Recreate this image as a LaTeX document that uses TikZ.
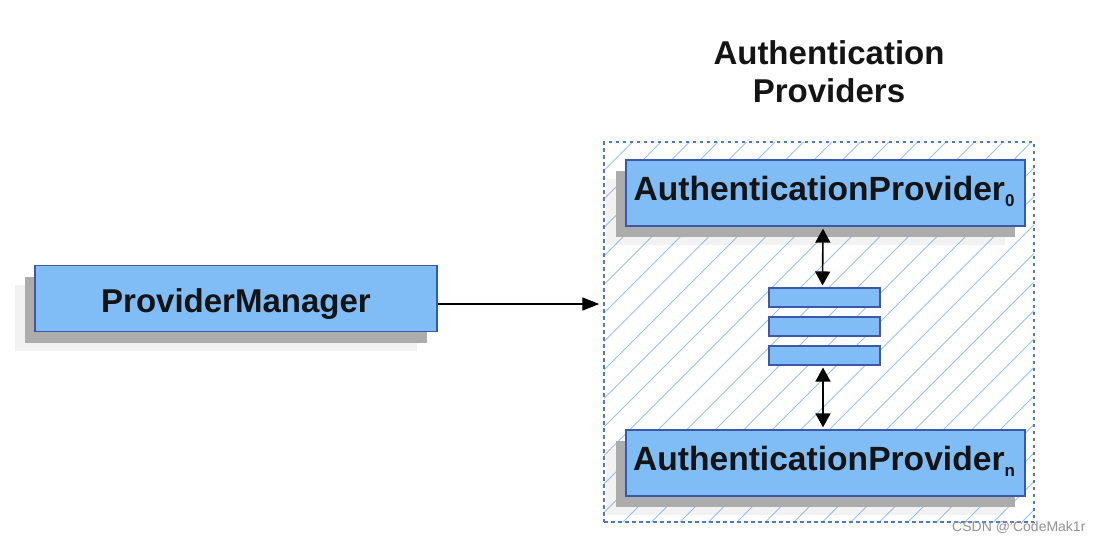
\documentclass[tikz,border=0pt]{standalone}
\usepackage{fontspec}
\setmainfont{Liberation Sans}
\usetikzlibrary{arrows.meta,shadows}
\definecolor{boxfill}{RGB}{128,188,246}
\definecolor{boxline}{RGB}{62,88,168}
\definecolor{hatchc}{RGB}{150,196,240}
\definecolor{grpline}{RGB}{80,120,200}
\definecolor{txt}{RGB}{20,20,20}
\newcommand{\subidx}[1]{\raisebox{-6pt}{\fontsize{17}{17}\selectfont\bfseries #1}}
\tikzset{
  bigbox/.style={draw=boxline, line width=1.3pt, fill=boxfill, minimum height=66pt,
    inner sep=0pt, text=txt, font=\fontsize{33.6}{38}\selectfont\bfseries,
    general shadow={shadow xshift=-20pt, shadow yshift=-19pt, fill=gray, fill opacity=0.1},
    general shadow={shadow xshift=-10pt, shadow yshift=-11pt, fill=gray!65}},
  bar/.style={draw=boxline, line width=1.1pt, fill=boxfill, minimum width=111pt, minimum height=19pt, inner sep=0pt},
  grp/.style={draw=grpline, line width=1.4pt, dash pattern=on 3.5pt off 3.5pt, minimum width=430pt, minimum height=380pt, inner sep=0pt},
  hatch/.style={draw=hatchc, line width=0.9pt},
  conn/.style={draw=black, line width=1.2pt, -{Triangle[length=17pt,width=13pt]}},
  dconn/.style={draw=black, line width=1.6pt, {Triangle[length=14pt,width=15pt]}-{Triangle[length=14pt,width=15pt]}},
}
\begin{document}
\begin{tikzpicture}[x=1pt,y=-1pt]
\useasboundingbox[fill=white] (0,0) rectangle (1103,541);
% group hatching
\begin{scope}
\clip (604,142) rectangle (1034,522);
\foreach \i in {0,...,30} \draw[hatch] ({604-380+\i*28.5},522) -- ++(380,-380);
\end{scope}
\node[grp] (grp) at (819,332) {};
\node[align=center, text=txt, font=\fontsize{33}{38}\selectfont\bfseries] (title) at (829,72) {Authentication\\Providers};
\node[bigbox, minimum width=402pt, font=\fontsize{33}{38}\selectfont\bfseries, text height=27pt, text depth=0pt] (pm) at (236,298.5) {ProviderManager};
\node[bigbox, minimum width=399pt, text height=14pt, text depth=0pt] (ap0) at (825.5,193) {\hspace{-3pt}AuthenticationProvider\subidx{0}};
\node[bigbox, minimum width=399pt, text height=14pt, text depth=0pt] (apn) at (825.5,463) {\hspace{-3pt}AuthenticationProvider\subidx{n}};
\node[bar] (b1) at (824.5,297.5) {};
\node[bar] (b2) at (824.5,326.5) {};
\node[bar] (b3) at (824.5,355.5) {};
\draw[conn] ([yshift=-5.5pt]pm.east) -- ([xshift=-4pt,yshift=-5.5pt]grp.west |- pm.east);
\draw[dconn] ([xshift=-2.5pt,yshift=-2pt]ap0.south) -- ([xshift=-2pt,yshift=2pt]b1.north);
\draw[dconn] ([xshift=-1.5pt,yshift=-2pt]b3.south) -- ([xshift=-2.5pt,yshift=2pt]apn.north);
\node[anchor=base east, text=gray!85, font=\fontsize{14}{14}\selectfont] (wm) at (1089,531) {CSDN @'CodeMak1r};
\end{tikzpicture}
\end{document}
